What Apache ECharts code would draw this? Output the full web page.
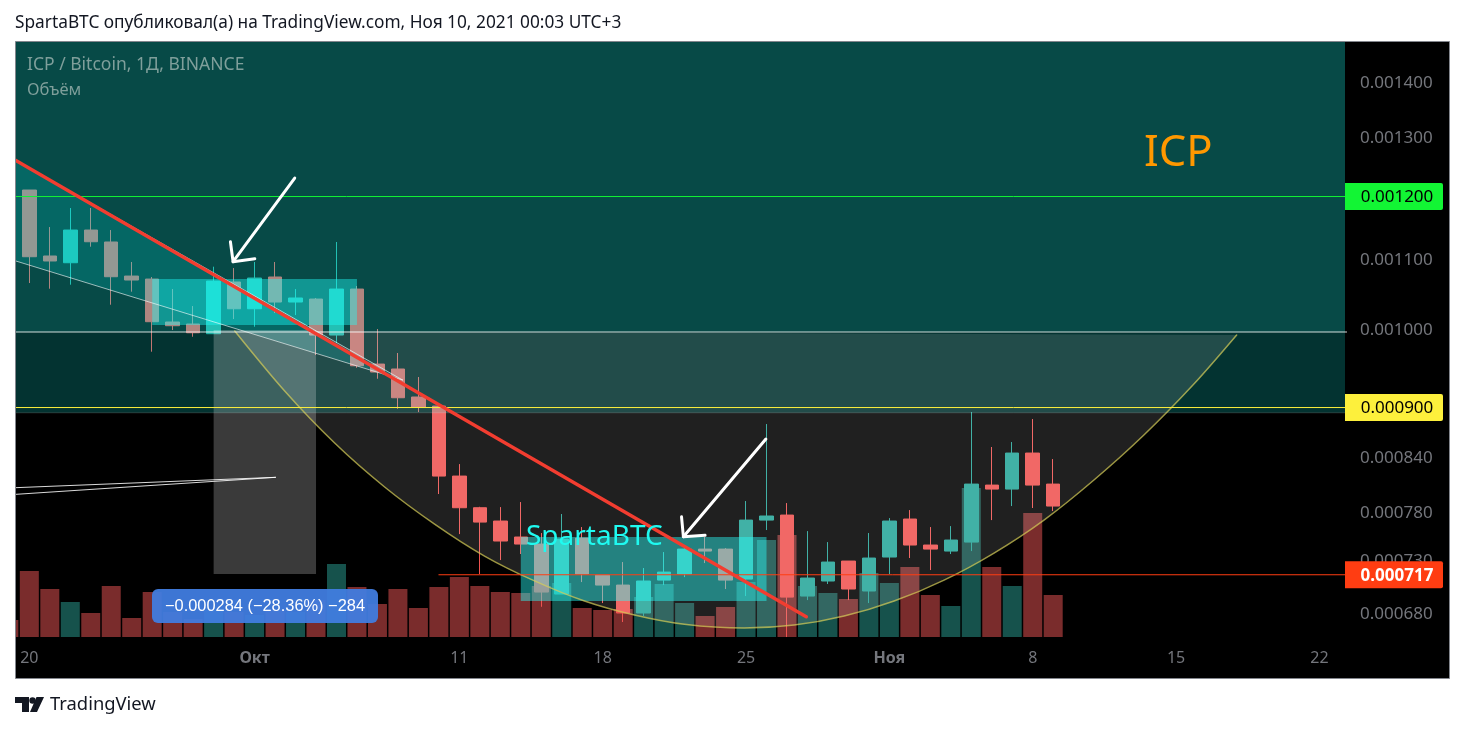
<!DOCTYPE html>
<html><head><meta charset="utf-8"><style>html,body{margin:0;padding:0;background:#fff}#c{width:1465px;height:732px}</style>
<script src="https://cdn.jsdelivr.net/npm/echarts@6/dist/echarts.min.js"></script></head>
<body><div id="c"></div>
<script>
// Prices are in millionths of a bitcoin (0.001200 BTC = 1200).
const firstDay = -1;            // days after 20 Sep 2021
const opens  = [1210.7,1210.7,1106.7,1096.6,1146.5,1128.0,1076.9,1072.5,1011.6,1008.8,995.6,1068.2,1030.0,1075.5,1039.5,1043.7,993.8,1058.0,955.3,948.9,913.4,902.2,820.2,785.6,771.5,754.9,747.7,698.5,753.8,716.8,707.1,680.7,711.9,717.8,742.6,742.6,712.9,772.5,777.8,696.6,711.0,730.6,701.4,734.6,773.6,746.7,740.6,749.7,810.2,805.8,846.3,811.3];
const closes = [1207.4,1105.6,1099.2,1146.5,1128.4,1075.9,1071.1,1012.0,1006.5,996.9,1069.6,1030.0,1074.0,1039.5,1045.2,993.8,1058.0,953.1,945.0,912.5,901.0,820.2,785.6,770.4,750.8,747.7,700.4,752.8,717.8,707.1,680.7,711.0,719.7,742.6,740.6,711.9,772.5,776.8,695.6,713.9,729.6,703.3,733.6,771.5,746.7,742.6,751.8,811.3,805.8,846.3,810.2,787.4];
const lows   = [1207.4,1066.7,1058.5,1064.3,1120.8,1035.7,1054.2,971.5,1000.6,991.5,995.6,1015.7,1005.1,1024.0,1021.2,967.1,983.0,950.5,936.4,898.9,894.9,800.4,757.9,717.8,731.6,737.6,686.5,698.5,710.0,690.0,672.4,677.9,707.1,714.8,728.6,703.3,696.6,762.1,658.8,692.8,708.1,692.8,690.0,717.8,733.6,721.7,737.6,740.6,772.5,787.4,785.3,782.1];
const highs  = [1212.4,1210.7,1151.2,1181.4,1181.4,1146.5,1097.7,1075.5,1058.0,1033.8,1090.7,1088.7,1097.7,1097.7,1058.0,1045.2,1128.0,1062.4,1002.0,969.8,938.6,905.9,833.7,786.6,786.3,791.7,759.0,778.9,765.2,716.8,729.6,723.7,739.6,743.6,754.9,743.6,792.8,880.4,790.6,761.0,749.7,730.6,759.0,774.6,783.1,765.2,766.2,894.9,853.3,859.1,886.4,839.4];
const volumes= [17,66,48,35,24,51,19,45,25,18,27,25,22,27,25,37,73,50,33,48,29,50,60,51,45,44,51,54,29,27,28,40,53,34,21,30,55,97,102,51,44,38,64,54,70,42,31,149,70,51,124,42];

const priceTicks = [1400,1300,1100,1000,840,780,730,680];
const tickDays   = [0,11,21,28,35,42,49,56,63];
const tickLabels = ['20','Окт','11','18','25','Ноя','8','15','22'];

// Drawings on the chart, as [day, price]
const saucer   = [[10.03,999.2],[12.47,920.8],[14.91,857.9],[17.35,808.1],[19.79,768.3],[22.23,735.6],[24.67,711.1],[27.11,691.9],[29.55,678.8],[31.99,670.3],[34.91,666.9],[37.35,669.6],[39.79,677.9],[42.23,691.9],[44.67,711.9],[47.11,738.6],[49.55,772.5],[51.99,815.8],[54.43,867.3],[56.87,929.6],[58.96,993.8]];
const redTrend = [[-0.70,1261.2],[37.94,677.2]];
const wedgeLow = [[-0.70,1099.6],[18.23,934.8]];
const wedgeTop = [[-0.70,1261.2],[18.23,934.8]];
const driftA   = [[-0.70,807.3],[12.02,818.8]];
const driftB   = [[-0.70,800.0],[12.02,818.8]];
const arrow1   = [[12.96,1230.6],[9.95,1098.1]];
const head1    = [[9.82,1128.4],[9.95,1098.1],[11.01,1102.6]];
const arrow2   = [[35.97,862.6],[31.94,755.2]];
const head2    = [[31.85,776.0],[31.94,755.2],[33.00,756.6]];
const bandUpper = [[-1,1483],[65,1483],[65,998],[-1,998]];
const bandLower = [[-1,998],[65,998],[65,894],[-1,894]];
const boxGrey  = [[9,1000.6],[14,1000.6],[14,717.8],[9,717.8]];
const boxTop   = [[6,1072.5],[16,1072.5],[16,1007.4],[6,1007.4]];
const boxLow   = [[24,754.9],[36,754.9],[36,691.9],[24,691.9]];
const levels   = [
  {price:1200,   from:-1, color:'#12f534', tag:'0.001200', ink:'#000'},
  {price:900.4,  from:-1, color:'#fdf03c', tag:'0.000900', ink:'#000'},
  {price:717.1,  from:20, color:'#ff3d12', tag:'0.000717', ink:'#fff'}
];
const whiteLine = [[-1,998],[65,998]];
const bandEdge  = [[-1,894],[65,894]];

const FONT = "'Noto Sans'";
const xMin = -0.7, xMax = 64.25, yMin = 651.7, yMax = 1483;
const days = opens.map((_, i) => firstDay + i);

const poly = (name, pts, fill, z) => ({
  name, type:'custom', coordinateSystem:'cartesian2d', data:pts, encode:{x:0,y:1}, z, clip:true, silent:true,
  renderItem:(p, api) => p.dataIndex ? null : ({type:'polygon', shape:{points:pts.map(q=>api.coord(q))}, style:{fill}})
});
const line = (name, pts, color, width, z, smooth) => ({
  name, type:'line', data:pts, showSymbol:false, smooth:smooth||false, z, silent:true,
  lineStyle:{color, width, cap:'round', join:'round'}, clip:true
});

const series = [
  {name:'Объём', type:'bar', xAxisIndex:1, yAxisIndex:1, z:1, barWidth:19, silent:true, clip:true,
    data:days.map((d,i)=>({value:[d,volumes[i]], itemStyle:{color:closes[i]>opens[i]?'#16524c':'#7a2c2c'}}))},
  {name:'ICP / Bitcoin', type:'candlestick', z:2, barWidth:14, clip:true, silent:true,
    data:days.map((d,i)=>[d,opens[i],closes[i],lows[i],highs[i]]), encode:{x:0,y:[1,2,3,4]},
    itemStyle:{color:'#26a69a',color0:'#ef5350',borderColor:'#26a69a',borderColor0:'#ef5350',borderWidth:1}},
  poly('band-upper', bandUpper, 'rgba(24,255,245,0.29)', 3),
  poly('band-lower', bandLower, 'rgba(15,255,245,0.20)', 3),
  poly('wedge', wedgeLow.concat(wedgeTop.slice().reverse()), 'rgba(0,255,255,0.16)', 4),
  poly('saucer-fill', saucer, 'rgba(255,255,255,0.125)', 4),
  poly('box-grey', boxGrey, 'rgba(255,255,255,0.227)', 5),
  poly('box-top', boxTop, 'rgba(30,255,250,0.42)', 5),
  poly('box-low', boxLow, 'rgba(40,255,250,0.44)', 5),
  line('saucer', saucer, 'rgba(214,205,90,0.72)', 1.5, 6, 0.3),
  line('white', whiteLine, 'rgba(255,255,255,0.55)', 1.5, 6),
  line('band-edge', bandEdge, 'rgba(255,255,255,0.16)', 1, 6),
  line('wedge-low', wedgeLow, 'rgba(255,255,255,0.6)', 1, 6),
  line('wedge-top', wedgeTop, 'rgba(255,255,255,0.6)', 1, 6),
  line('drift-a', driftA, 'rgba(255,255,255,0.85)', 1, 6),
  line('drift-b', driftB, 'rgba(255,255,255,0.85)', 1, 6),
  line('red-trend', redTrend, '#f23d30', 3.4, 8),
  line('arrow-1', arrow1, '#fff', 3, 9),
  line('head-1', head1, '#fff', 3, 9),
  line('arrow-2', arrow2, '#fff', 3, 9),
  line('head-2', head2, '#fff', 3, 9),
  ...levels.map(l => line('level-'+l.price, [[l.from,l.price],[65,l.price]], l.color, 1, 7)),
  {name:'tags', type:'custom', coordinateSystem:'cartesian2d', z:20, clip:false, silent:true,
    data:levels.map(l=>[xMax,l.price]), encode:{x:0,y:1},
    renderItem:(p, api) => {
      const l = levels[p.dataIndex], c = api.coord([xMax,l.price]);
      return {type:'group', children:[
        {type:'rect', shape:{x:c[0],y:c[1]-13.5,width:98,height:27,r:[0,2,2,0]}, style:{fill:l.color}},
        {type:'text', style:{x:c[0]+52,y:c[1]+1,text:l.tag,fill:l.ink,font:(l.ink==='#fff'?'700 ':'')+'17px '+FONT,align:'center',verticalAlign:'middle'}}
      ]};
    }}
];

const chart = echarts.init(document.getElementById('c'), null, {renderer:'canvas', width:1465, height:732});
chart.setOption({
  animation:false, backgroundColor:'#fff',
  grid:[{left:15,top:41,width:1330,height:604},{left:15,top:437,width:1330,height:200}],
  xAxis:[
    {type:'value', gridIndex:0, min:xMin, max:xMax, splitLine:{show:false}, axisLine:{show:false}, axisTick:{show:false},
     axisLabel:{customValues:tickDays, margin:5, fontFamily:FONT, fontSize:16, color:'#74767c',
       formatter:v=>{const s=tickLabels[tickDays.indexOf(Math.round(v))]; return /[А-я]/.test(s)?'{b|'+s+'}':s;},
       rich:{b:{fontWeight:700,fontFamily:FONT,fontSize:16,color:'#74767c'}}}},
    {type:'value', gridIndex:1, min:xMin, max:xMax, show:false}
  ],
  yAxis:[
    {type:'log', gridIndex:0, min:yMin, max:yMax, position:'right', splitLine:{show:false}, axisLine:{show:false}, axisTick:{show:false},
     axisLabel:{customValues:priceTicks, margin:15, fontFamily:FONT, fontSize:17, color:'#74767c', formatter:v=>(v/1e6).toFixed(6)}},
    {type:'value', gridIndex:1, min:0, max:200, show:false}
  ],
  graphic:[
    {type:'rect', z:-10, shape:{x:15.5,y:41.5,width:1434,height:637}, style:{fill:'#000'}},
    {type:'rect', z:30, shape:{x:0,y:30,width:15,height:660}, style:{fill:'#fff'}},
    {type:'rect', z:40, shape:{x:15.5,y:41.5,width:1434,height:637}, style:{fill:'none',stroke:'#83868d',lineWidth:1}},
    {type:'text', z:50, x:15, y:15, style:{text:'SpartaBTC опубликовал(а) на TradingView.com, Ноя 10, 2021 00:03 UTC+3', fill:'#131722', font:'17.3px '+FONT}},
    {type:'text', z:50, x:27, y:56, style:{text:'ICP / Bitcoin, 1Д, BINANCE', fill:'#7f9f9b', font:'17.5px '+FONT}},
    {type:'text', z:50, x:27, y:82, style:{text:'Объём', fill:'#7f9f9b', font:'16.5px '+FONT}},
    {type:'text', z:50, x:1144, y:132, style:{text:'ICP', fill:'#ff9800', font:'43.5px '+FONT}},
    {type:'text', z:50, x:526, y:523, style:{text:'SpartaBTC', fill:'#1ffaf0', font:'28px '+FONT}},
    {type:'rect', z:50, shape:{x:152,y:589,width:226,height:34,r:6}, style:{fill:'rgba(65,125,225,0.94)'}},
    {type:'text', z:51, x:265, y:606, style:{text:'−0.000284 (−28.36%) −284', fill:'#fff', font:'16.4px "Liberation Sans"', align:'center', verticalAlign:'middle'}},
    {type:'polygon', z:50, shape:{points:[[15,697],[29,697],[29,712],[22,712],[22,703],[15,703]]}, style:{fill:'#131722'}},
    {type:'polygon', z:50, shape:{points:[[36.5,697],[44,697],[37,712],[30,712]]}, style:{fill:'#131722'}},
    {type:'circle', z:50, shape:{cx:32.5,cy:700.5,r:3.2}, style:{fill:'#131722'}},
    {type:'text', z:50, x:50, y:696, style:{text:'TradingView', fill:'#131722', font:'18.4px "Noto Sans"'}}
  ],
  series
});
</script></body></html>
